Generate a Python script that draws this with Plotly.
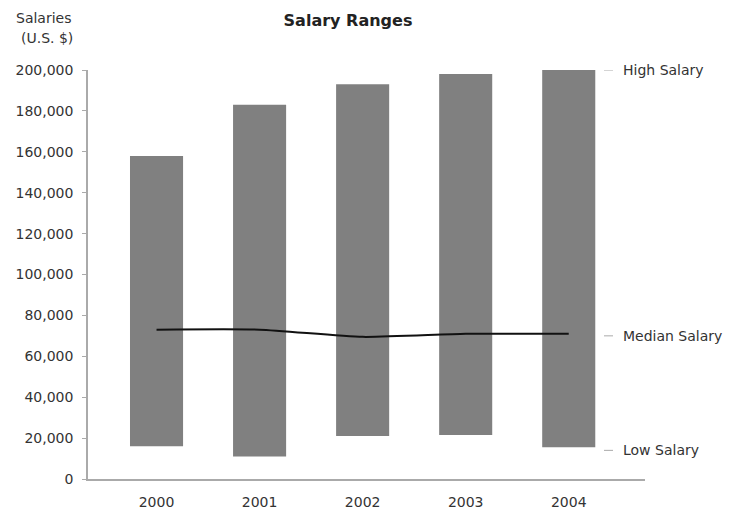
import plotly.graph_objects as go

years = ["2000", "2001", "2002", "2003", "2004"]
high_salary = [158000, 183000, 193000, 198000, 200000]
low_salary = [16000, 11000, 21000, 21500, 15500]
median_salary = [73000, 73000, 69500, 71000, 71000]
y_ticks = [0, 20000, 40000, 60000, 80000, 100000, 120000, 140000, 160000, 180000, 200000]
right_labels = ["High Salary", "Median Salary", "Low Salary"]
right_label_values = [200000, 70000, 14000]

FONT = "DejaVu Sans, Liberation Sans, Arial, sans-serif"
TXT = "#333333"

W, H = 733, 505
L, R, T, B = 80, 96, 62, 34
PW, PH = W - L - R, H - T - B

def px_x(fx):
    return (fx - L) / PW

def px_y(fy):
    return 1 + (T - fy) / PH

fig = go.Figure()
fig.add_trace(go.Bar(
    x=years,
    y=[h - l for h, l in zip(high_salary, low_salary)],
    base=low_salary,
    marker=dict(color="#808080", line=dict(width=0)),
    width=0.515,
    showlegend=False,
    hoverinfo="skip",
))
fig.add_trace(go.Scatter(
    x=years, y=median_salary, mode="lines",
    line=dict(color="#111111", width=2, shape="spline", smoothing=0.6),
    showlegend=False,
))

for lab, val in zip(right_labels, right_label_values):
    fig.add_shape(type="line", xref="paper", yref="y",
                  x0=px_x(596), x1=px_x(605),
                  y0=val, y1=val, line=dict(color="#aaaaaa", width=1))
    fig.add_annotation(text=lab, xref="paper", yref="y",
                       x=px_x(613), y=val, xanchor="left", yanchor="middle",
                       showarrow=False, font=dict(family=FONT, size=14, color=TXT))

fig.add_annotation(text="Salaries", xref="paper", yref="paper",
                   x=px_x(6), y=px_y(10), xanchor="left", yanchor="middle",
                   showarrow=False, font=dict(family=FONT, size=14, color=TXT))
fig.add_annotation(text="(U.S. $)", xref="paper", yref="paper",
                   x=px_x(11), y=px_y(30), xanchor="left", yanchor="middle",
                   showarrow=False, font=dict(family=FONT, size=14, color=TXT))

fig.update_layout(
    width=W, height=H,
    margin=dict(l=L, r=R, t=T, b=B, autoexpand=False),
    paper_bgcolor="white", plot_bgcolor="white",
    title=dict(text="<b>Salary Ranges</b>", x=340 / W, xanchor="center",
               y=1 - 12 / H, yanchor="middle",
               font=dict(family=FONT, size=16, color="#222222")),
    font=dict(family=FONT, size=14, color=TXT),
)
fig.update_xaxes(type="category", range=[-0.665, 4.74], showline=True, linecolor="#aaaaaa",
                 linewidth=1.5, ticks="", showgrid=False, zeroline=False,
                 automargin=False, ticklabelstandoff=9,
                 tickfont=dict(family=FONT, size=14, color=TXT))
fig.update_yaxes(range=[0, 200000], tickvals=y_ticks, tickformat=",d", showline=True,
                 linecolor="#aaaaaa", linewidth=1.5, ticks="outside", ticklen=4,
                 tickcolor="#aaaaaa", showgrid=False, zeroline=False,
                 automargin=False, ticklabelstandoff=6,
                 tickfont=dict(family=FONT, size=14, color=TXT))

fig.write_html("out.html")
